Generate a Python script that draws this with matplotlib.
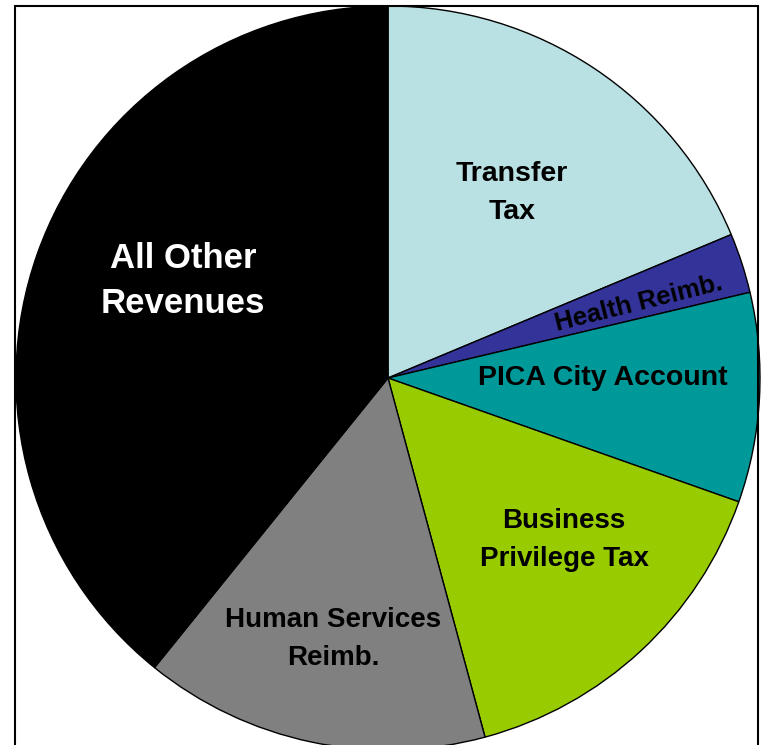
import matplotlib.pyplot as plt
from matplotlib.patches import Rectangle

plt.rcParams['font.family'] = ['Liberation Sans', 'DejaVu Sans']

# share of revenues (percent)
categories = ['Transfer\nTax', 'Health Reimb.', 'PICA City Account',
              'Business\nPrivilege Tax', 'Human Services\nReimb.',
              'All Other\nRevenues']
shares = [18.7, 2.6, 9.1, 15.4, 15.0, 39.2]
colors = ['#B9E0E3', '#333399', '#009999', '#99CC00', '#808080', '#000000']

# label placement (pixel coords, y measured from top)
label_xy = [(512, 193), (639, 303), (603, 378), (564, 540), (333, 639), (183, 281)]
label_size = [20.5, 18.5, 20.5, 20, 20, 25]
label_rot = [0, 14, 0, 0, 0, 0]
label_color = ['black'] * 5 + ['white']
label_spacing = [1.6, 1.45, 1.45, 1.55, 1.6, 1.48]

W, H = 761, 745
fig = plt.figure(figsize=(W / 100, H / 100), dpi=100)
ax = fig.add_axes([0, 0, 1, 1])

wedges, _ = ax.pie(shares, colors=colors, startangle=90, counterclock=False,
                   center=(388, H - 378), radius=372, frame=True,
                   wedgeprops=dict(edgecolor='black', linewidth=1))
ax.set_xlim(0, W)
ax.set_ylim(0, H)
ax.axis('off')

# outer frame
ax.add_patch(Rectangle((15, -20), 743, H - 6 + 20, fill=False,
                       edgecolor='black', linewidth=1.5, zorder=5))

for name, (x, y), fs, rot, c, ls in zip(categories, label_xy, label_size,
                                        label_rot, label_color, label_spacing):
    ax.text(x, H - y, name, ha='center', va='center', fontsize=fs,
            fontweight='bold', rotation=rot, color=c, linespacing=ls,
            rotation_mode='anchor')

fig.savefig('out.png', dpi=100)
